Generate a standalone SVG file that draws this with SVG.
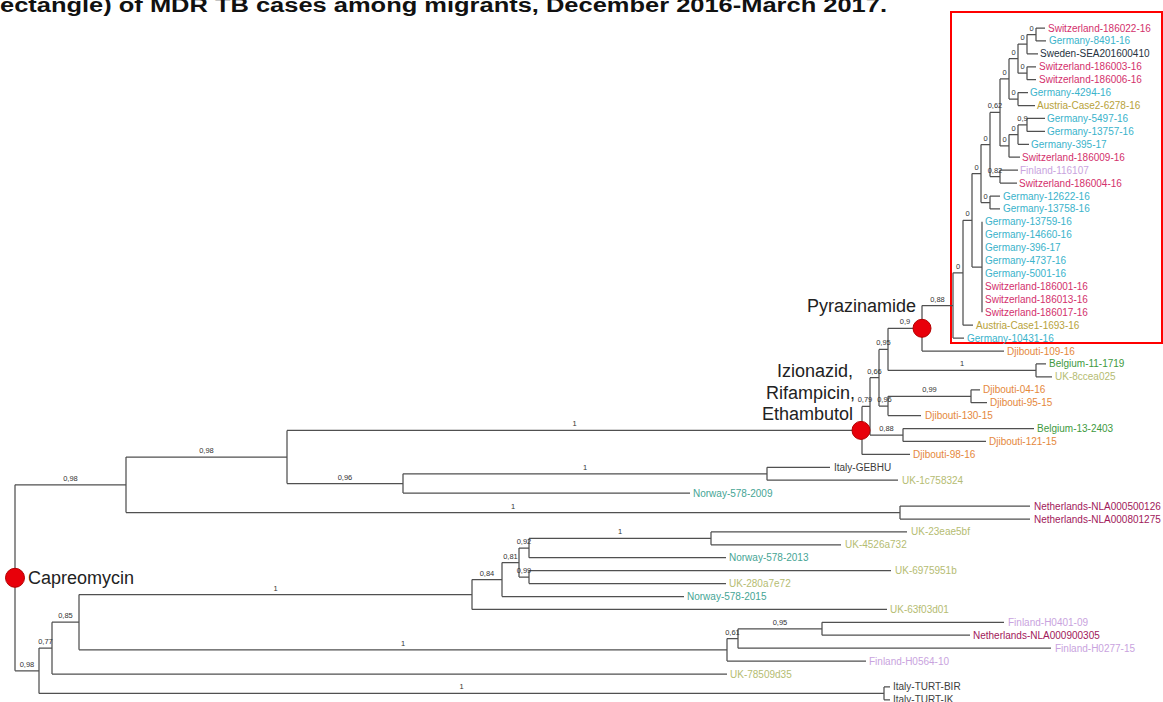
<svg xmlns="http://www.w3.org/2000/svg" width="1163" height="702" viewBox="0 0 1163 702">
<style>
text{font-family:"Liberation Sans",Arial,sans-serif}
.lf{font-size:10px}
.sp{font-size:7.5px;fill:#333;text-anchor:middle}
.big{font-size:18px;fill:#222}
.sw{fill:#d3306c}.de{fill:#3ab3cb}.se{fill:#26323e}.at{fill:#b8a23a}.fi{fill:#c9a3de}
.dj{fill:#e5883c}.be{fill:#3e9a3e}.uk{fill:#b5bc72}.it{fill:#3d3d3d}.no{fill:#46a595}.nl{fill:#a1185a}
.br{fill:none;stroke:#505050;stroke-width:1.25}
.mk{fill:#e8000a;stroke:#b30000;stroke-width:1}
</style>
<rect width="1163" height="702" fill="#fff"/>
<text x="0" y="12" font-family="DejaVu Sans,Verdana,sans-serif" font-weight="bold" font-size="19.5" textLength="887" lengthAdjust="spacingAndGlyphs" fill="#111">ectangle) of MDR TB cases among migrants, December 2016-March 2017.</text>
<rect x="951" y="12" width="211" height="331" fill="none" stroke="#ff0000" stroke-width="2"/>
<g id="connectors" class="br">
<path d="M15 484.8V670.8M6 577.8H15"/>
<path d="M15 484.8H126M126 457V512.5M126 457H287M287 430.4V483.5"/>
<path d="M287 430.4H862M862 406.4V454.4M862 454.4H910M862 406.4H870M870 377.7V435M870 377.7H879M879 349.4V406M879 349.4H888M888 328.3V370.4"/>
<path d="M888 328.3H922M922 305.5V351M922 351H1004M922 305.5H953M953 272.8V338.1M953 338.1H964M953 272.8H963M963 220.3V325.2M963 325.2H973M963 220.3H972M972 173.5V267M972 267H982M982 221.8V312.2"/>
<path d="M972 173.5H981M981 144.5V202.5M981 202.5H990M990 196V208.9M990 196H1000M990 208.9H1000M981 144.5H990M990 112.4V176.6M990 176.6H1000M1000 170.1V183M1000 170.1H1018M1000 183H1017"/>
<path d="M990 112.4H1000M1000 78.9V145.9M1000 145.9H1009M1009 134.6V157.2M1009 157.2H1020M1009 134.6H1018M1018 124.9V144.3M1018 144.3H1029M1018 124.9H1027M1027 118.4V131.4M1027 118.4H1045M1027 131.4H1045"/>
<path d="M1000 78.9H1009M1009 58.7V99.1M1009 99.1H1018M1018 92.6V105.5M1018 92.6H1028M1018 105.5H1035M1009 58.7H1018M1018 44.1V73.2M1018 73.2H1027M1027 66.8V79.7M1027 66.8H1036M1027 79.7H1036M1018 44.1H1027M1027 34.5V53.8M1027 53.8H1038M1027 34.5H1036M1036 28V40.9M1036 28H1045M1036 40.9H1046"/>
<path d="M888 370.4H1036M1036 363.9V376.8M1036 363.9H1046M1036 376.8H1052M879 406H888M888 396.3V415.6M888 415.6H921M888 396.3H971M971 389.8V402.7M971 389.8H980M971 402.7H987M870 435H903M903 428.5V441.4M903 428.5H1034M903 441.4H986"/>
<path d="M287 483.5H403M403 473.8V493.1M403 493.1H690M403 473.8H767M767 467.3V480.2M767 467.3H830M767 480.2H898M126 512.5H900M900 506V519M900 506H1030M900 519H1030"/>
<path d="M15 670.8H39M39 648.1V693.4M39 693.4H884M884 686.9V699.8M884 686.9H890M884 699.8H890M39 648.1H52M52 622.2V674M52 674H727M52 622.2H79M79 594.5V649.8"/>
<path d="M79 594.5H472M472 579.6V609.4M472 609.4H887M472 579.6H502M502 562.6V596.5M502 596.5H684M502 562.6H519M519 548.1V577.1M519 548.1H529M529 538.4V557.7M529 557.7H726M529 538.4H711M711 531.9V544.8M711 531.9H907M711 544.8H841M519 577.1H529M529 570.6V583.6M529 570.6H891M529 583.6H726"/>
<path d="M79 649.8H727M727 638.5V661.1M727 661.1H866M727 638.5H738M738 628.8V648.2M738 648.2H1051M738 628.8H822M822 622.3V635.2M822 622.3H1004M822 635.2H970"/>
</g>
<g id="support">
<text class="sp" x="1031.5" y="30.5">0</text>
<text class="sp" x="1022.5" y="40.1">0</text>
<text class="sp" x="1022.5" y="69.2">0</text>
<text class="sp" x="1013.5" y="54.7">0</text>
<text class="sp" x="1004.5" y="74.9">0</text>
<text class="sp" x="1013.5" y="95.1">0</text>
<text class="sp" x="1022.5" y="120.9">0,9</text>
<text class="sp" x="1013.5" y="130.6">0</text>
<text class="sp" x="1004.5" y="141.9">0</text>
<text class="sp" x="995" y="108.4">0,62</text>
<text class="sp" x="995" y="172.6">0,82</text>
<text class="sp" x="985.5" y="140.5">0</text>
<text class="sp" x="976.5" y="169.5">0</text>
<text class="sp" x="985.5" y="198.5">0</text>
<text class="sp" x="967.5" y="216.3">0</text>
<text class="sp" x="958" y="268.8">0</text>
<text class="sp" x="937.5" y="301.5">0,88</text>
<text class="sp" x="905" y="324.3">0,9</text>
<text class="sp" x="883.5" y="345.4">0,95</text>
<text class="sp" x="962" y="366.4">1</text>
<text class="sp" x="874.5" y="373.7">0,66</text>
<text class="sp" x="884.5" y="402">0,96</text>
<text class="sp" x="929.5" y="392.3">0,99</text>
<text class="sp" x="865" y="402.4">0,79</text>
<text class="sp" x="886.5" y="431">0,88</text>
<text class="sp" x="574.5" y="426.4">1</text>
<text class="sp" x="206.5" y="453">0,98</text>
<text class="sp" x="70.5" y="480.8">0,98</text>
<text class="sp" x="345" y="479.5">0,96</text>
<text class="sp" x="585" y="469.8">1</text>
<text class="sp" x="513" y="508.5">1</text>
<text class="sp" x="27" y="666.8">0,98</text>
<text class="sp" x="45.5" y="644.1">0,77</text>
<text class="sp" x="65.5" y="618.2">0,85</text>
<text class="sp" x="275.5" y="590.5">1</text>
<text class="sp" x="403" y="645.8">1</text>
<text class="sp" x="487" y="575.6">0,84</text>
<text class="sp" x="510.5" y="558.6">0,81</text>
<text class="sp" x="524" y="544.1">0,92</text>
<text class="sp" x="524" y="573.1">0,99</text>
<text class="sp" x="620" y="534.4">1</text>
<text class="sp" x="732.5" y="634.5">0,61</text>
<text class="sp" x="780" y="624.8">0,95</text>
<text class="sp" x="461.5" y="689.4">1</text>
</g>
<g id="leaf-switzerland-186022-16"><text class="lf sw" x="1048" y="31.5">Switzerland-186022-16</text></g>
<g id="leaf-germany-8491-16"><text class="lf de" x="1049" y="44.4">Germany-8491-16</text></g>
<g id="leaf-sweden-sea201600410"><text class="lf se" x="1040" y="57.3">Sweden-SEA201600410</text></g>
<g id="leaf-switzerland-186003-16"><text class="lf sw" x="1039" y="70.3">Switzerland-186003-16</text></g>
<g id="leaf-switzerland-186006-16"><text class="lf sw" x="1039" y="83.2">Switzerland-186006-16</text></g>
<g id="leaf-germany-4294-16"><text class="lf de" x="1030" y="96.1">Germany-4294-16</text></g>
<g id="leaf-austria-case2-6278-16"><text class="lf at" x="1037" y="109">Austria-Case2-6278-16</text></g>
<g id="leaf-germany-5497-16"><text class="lf de" x="1047" y="121.9">Germany-5497-16</text></g>
<g id="leaf-germany-13757-16"><text class="lf de" x="1047" y="134.9">Germany-13757-16</text></g>
<g id="leaf-germany-395-17"><text class="lf de" x="1031" y="147.8">Germany-395-17</text></g>
<g id="leaf-switzerland-186009-16"><text class="lf sw" x="1022" y="160.7">Switzerland-186009-16</text></g>
<g id="leaf-finland-116107"><text class="lf fi" x="1020" y="173.6">Finland-116107</text></g>
<g id="leaf-switzerland-186004-16"><text class="lf sw" x="1019" y="186.5">Switzerland-186004-16</text></g>
<g id="leaf-germany-12622-16"><text class="lf de" x="1003" y="199.5">Germany-12622-16</text></g>
<g id="leaf-germany-13758-16"><text class="lf de" x="1003" y="212.4">Germany-13758-16</text></g>
<g id="leaf-germany-13759-16"><text class="lf de" x="985" y="225.3">Germany-13759-16</text></g>
<g id="leaf-germany-14660-16"><text class="lf de" x="985" y="238.2">Germany-14660-16</text></g>
<g id="leaf-germany-396-17"><text class="lf de" x="985" y="251.1">Germany-396-17</text></g>
<g id="leaf-germany-4737-16"><text class="lf de" x="985" y="264.1">Germany-4737-16</text></g>
<g id="leaf-germany-5001-16"><text class="lf de" x="985" y="277">Germany-5001-16</text></g>
<g id="leaf-switzerland-186001-16"><text class="lf sw" x="985" y="289.9">Switzerland-186001-16</text></g>
<g id="leaf-switzerland-186013-16"><text class="lf sw" x="985" y="302.8">Switzerland-186013-16</text></g>
<g id="leaf-switzerland-186017-16"><text class="lf sw" x="985" y="315.7">Switzerland-186017-16</text></g>
<g id="leaf-austria-case1-1693-16"><text class="lf at" x="976" y="328.7">Austria-Case1-1693-16</text></g>
<g id="leaf-germany-10431-16"><text class="lf de" x="967" y="341.6">Germany-10431-16</text></g>
<g id="leaf-djibouti-109-16"><text class="lf dj" x="1007" y="354.5">Djibouti-109-16</text></g>
<g id="leaf-belgium-11-1719"><text class="lf be" x="1049" y="367.4">Belgium-11-1719</text></g>
<g id="leaf-uk-8ccea025"><text class="lf uk" x="1055" y="380.3">UK-8ccea025</text></g>
<g id="leaf-djibouti-04-16"><text class="lf dj" x="983" y="393.3">Djibouti-04-16</text></g>
<g id="leaf-djibouti-95-15"><text class="lf dj" x="990" y="406.2">Djibouti-95-15</text></g>
<g id="leaf-djibouti-130-15"><text class="lf dj" x="925" y="419.1">Djibouti-130-15</text></g>
<g id="leaf-belgium-13-2403"><text class="lf be" x="1037" y="432">Belgium-13-2403</text></g>
<g id="leaf-djibouti-121-15"><text class="lf dj" x="989" y="444.9">Djibouti-121-15</text></g>
<g id="leaf-djibouti-98-16"><text class="lf dj" x="913" y="457.9">Djibouti-98-16</text></g>
<g id="leaf-italy-gebhu"><text class="lf it" x="834" y="470.8">Italy-GEBHU</text></g>
<g id="leaf-uk-1c758324"><text class="lf uk" x="902" y="483.7">UK-1c758324</text></g>
<g id="leaf-norway-578-2009"><text class="lf no" x="693" y="496.6">Norway-578-2009</text></g>
<g id="leaf-netherlands-nla000500126"><text class="lf nl" x="1034" y="509.5">Netherlands-NLA000500126</text></g>
<g id="leaf-netherlands-nla000801275"><text class="lf nl" x="1034" y="522.5">Netherlands-NLA000801275</text></g>
<g id="leaf-uk-23eae5bf"><text class="lf uk" x="911" y="535.4">UK-23eae5bf</text></g>
<g id="leaf-uk-4526a732"><text class="lf uk" x="845" y="548.3">UK-4526a732</text></g>
<g id="leaf-norway-578-2013"><text class="lf no" x="729" y="561.2">Norway-578-2013</text></g>
<g id="leaf-uk-6975951b"><text class="lf uk" x="895" y="574.1">UK-6975951b</text></g>
<g id="leaf-uk-280a7e72"><text class="lf uk" x="729" y="587.1">UK-280a7e72</text></g>
<g id="leaf-norway-578-2015"><text class="lf no" x="687" y="600">Norway-578-2015</text></g>
<g id="leaf-uk-63f03d01"><text class="lf uk" x="890" y="612.9">UK-63f03d01</text></g>
<g id="leaf-finland-h0401-09"><text class="lf fi" x="1008" y="625.8">Finland-H0401-09</text></g>
<g id="leaf-netherlands-nla000900305"><text class="lf nl" x="973" y="638.7">Netherlands-NLA000900305</text></g>
<g id="leaf-finland-h0277-15"><text class="lf fi" x="1055" y="651.7">Finland-H0277-15</text></g>
<g id="leaf-finland-h0564-10"><text class="lf fi" x="869" y="664.6">Finland-H0564-10</text></g>
<g id="leaf-uk-78509d35"><text class="lf uk" x="730" y="677.5">UK-78509d35</text></g>
<g id="leaf-italy-turt-bir"><text class="lf it" x="893" y="690.4">Italy-TURT-BIR</text></g>
<g id="leaf-italy-turt-ik"><text class="lf it" x="893" y="703.3">Italy-TURT-IK</text></g>
<g id="marker-pyrazinamide"><circle class="mk" cx="922" cy="328.3" r="9"/><text class="big" x="807" y="312">Pyrazinamide</text></g>
<g id="marker-izionazid"><circle class="mk" cx="861" cy="430.4" r="9"/><text class="big" text-anchor="end" x="853" y="377">Izionazid,</text><text class="big" text-anchor="end" x="855" y="399">Rifampicin,</text><text class="big" text-anchor="end" x="853" y="420">Ethambutol</text></g>
<g id="marker-capreomycin"><circle class="mk" cx="15" cy="577.8" r="9.5"/><text class="big" x="28" y="584">Capreomycin</text></g>
</svg>
